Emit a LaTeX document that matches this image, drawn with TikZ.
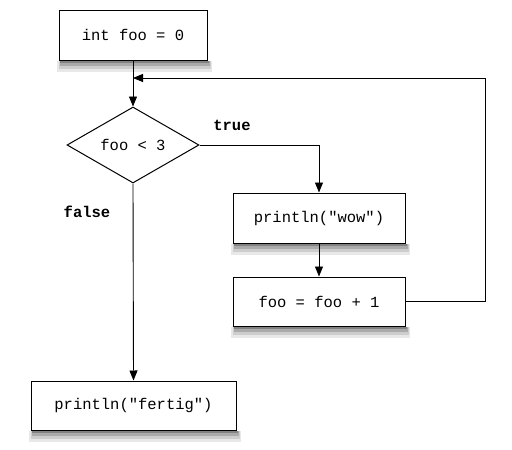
\documentclass[tikz,border=0pt]{standalone}
\usepackage{fontspec}
\setmonofont{Liberation Mono}
\usetikzlibrary{shapes.geometric,arrows.meta}
\definecolor{shadeA}{RGB}{232,232,232}
\definecolor{shadeB}{RGB}{205,205,205}
\definecolor{shadeC}{RGB}{170,170,170}
\definecolor{shadeD}{RGB}{130,130,130}
\begin{document}
\begin{tikzpicture}[x=1pt,y=-1pt,
  every node/.style={font=\ttfamily\fontsize{15.5}{18}\selectfont},
  stepbox/.style={draw, line width=1pt, fill=white, inner sep=0pt},
  decision/.style={draw, diamond, line width=1pt, fill=white, inner sep=0pt,
    minimum width=132pt, minimum height=76pt, aspect=1.74},
  flow/.style={line width=0.9pt, -{Triangle[length=10pt,width=8pt]}},
  lbl/.style={font=\ttfamily\bfseries\fontsize{15.5}{18}\selectfont}]
\useasboundingbox (0,0) rectangle (512,450);
\node[stepbox, minimum width=148pt, minimum height=50pt] (init) at (133,35) {int foo = 0};
\node[decision] (cond) at (133,145) {foo < 3};
\node[stepbox, minimum width=172pt, minimum height=50pt] (wow) at (319,218) {println("wow")};
\node[stepbox, minimum width=172pt, minimum height=49pt] (inc) at (319,301.5) {foo = foo + 1};
\node[stepbox, minimum width=205pt, minimum height=49pt] (fin) at (133.5,405.5) {println("fertig")};
% soft drop shadows below each box
\foreach \n in {init,wow,inc,fin}{
  \fill[shadeA] ([xshift=-2pt]\n.south west) rectangle ([xshift=4pt,yshift=-11pt]\n.south east);
  \fill[shadeB] ([xshift=0pt]\n.south west) rectangle ([xshift=3pt,yshift=-8pt]\n.south east);
  \fill[shadeC] ([xshift=1pt]\n.south west) rectangle ([xshift=2pt,yshift=-5pt]\n.south east);
  \fill[shadeD] ([xshift=1pt]\n.south west) rectangle ([xshift=1pt,yshift=-2.5pt]\n.south east);
  \draw[line width=1pt] (\n.south west) -- (\n.south east);
}
\coordinate (join) at (133,78);
\node[lbl] (ltrue) at (232,125) {true};
\node[lbl] (lfalse) at (87,212) {false};
\draw[flow] (init.south) -- (cond.north);
\draw[flow] (cond.east) -| (wow.north);
\draw[flow] (wow.south) -- (inc.north);
\draw[flow] (cond.south) -- (fin.north);
\draw[flow] (inc.east) -- (485,301.5) |- (join);
\end{tikzpicture}
\end{document}
